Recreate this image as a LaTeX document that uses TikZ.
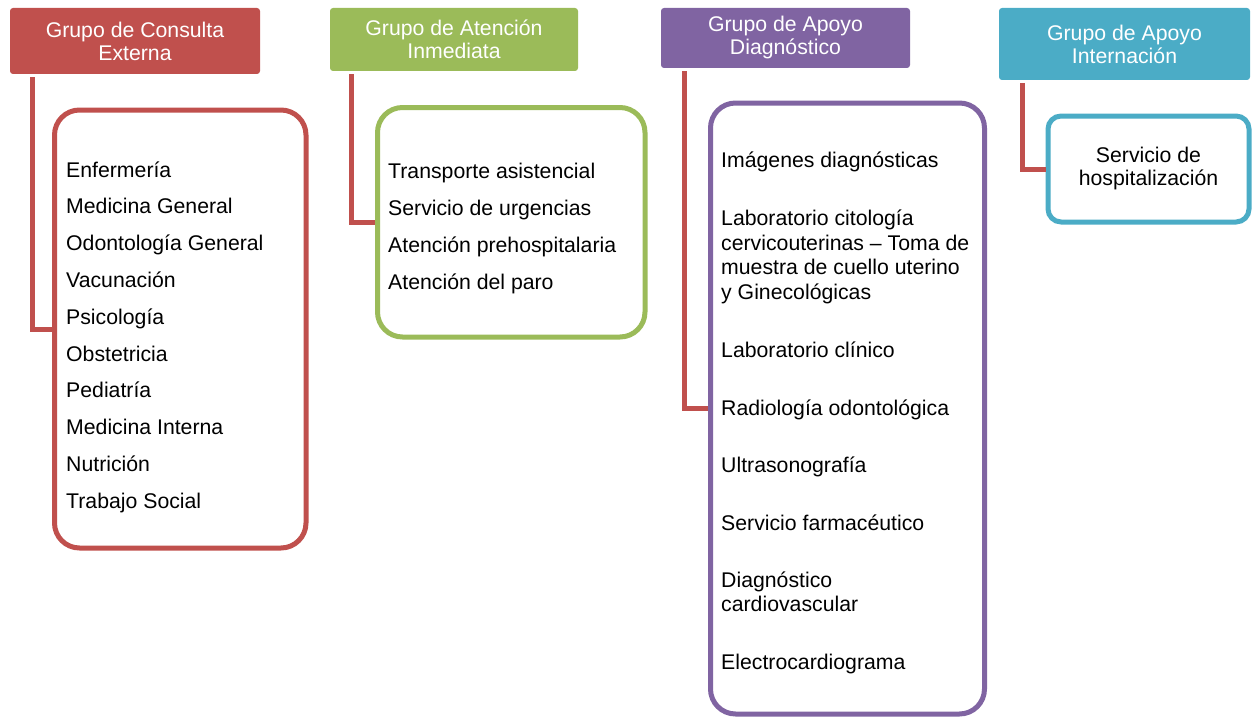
\documentclass[tikz,border=0pt]{standalone}
\usepackage{fontspec}
\setmainfont{Liberation Sans}
\definecolor{cred}{HTML}{C0504D}
\definecolor{cgreen}{HTML}{9BBB59}
\definecolor{cpurple}{HTML}{8064A2}
\definecolor{ccyan}{HTML}{4BACC6}
\begin{document}
\begin{tikzpicture}[x=1pt,y=-1pt,
  hdr/.style={rectangle, rounded corners=3pt, fill=#1, text=white, align=center, inner sep=0pt,
    font=\fontsize{21.25}{23}\selectfont},
  lbox/.style={rectangle, draw=#1, line width=5pt, rounded corners=25pt, fill=white, inner sep=0pt},
  item/.style={anchor=base west, inner sep=0pt, font=\fontsize{21.25}{24.5}\selectfont},
  conn/.style={draw=cred, line width=5pt}]
\useasboundingbox (0,0) rectangle (1253,717);

% headers
\node[hdr=cred, minimum width=250pt, minimum height=66pt] (h1) at (135,41) {Grupo de Consulta\\Externa};
\node[hdr=cgreen, minimum width=248pt, minimum height=63pt] (h2) at (454,39.5) {Grupo de Atención\\Inmediata};
\node[hdr=cpurple, minimum width=249pt, minimum height=60pt] (h3) at (785.5,38) {Grupo de Apoyo\\Diagnóstico};
\node[hdr=ccyan, minimum width=251pt, minimum height=72pt] (h4) at (1124.5,44) {Grupo de Apoyo\\Internación};

% list boxes
\node[lbox=cred, minimum width=251.5pt, minimum height=438pt] (b1) at (180.25,329) {};
\node[lbox=cgreen, minimum width=267.5pt, minimum height=229.5pt] (b2) at (511.25,222.25) {};
\node[lbox=cpurple, minimum width=274pt, minimum height=611pt] (b3) at (847.5,408.5) {};
\node[lbox=ccyan, rounded corners=13pt, minimum width=201pt, minimum height=106pt, align=center,
  font=\fontsize{21.25}{23}\selectfont] (b4) at (1148.5,169) {Servicio de\\hospitalización};

% connectors
\coordinate (c1) at ([xshift=23pt,yshift=-3pt]h1.south west);
\coordinate (c2) at ([xshift=22pt,yshift=-3pt]h2.south west);
\coordinate (c3) at ([xshift=24pt,yshift=-3pt]h3.south west);
\coordinate (c4) at ([xshift=23.5pt,yshift=-3pt]h4.south west);
\draw[conn] (c1) |- (b1.west);
\draw[conn] (c2) |- (b2.west);
\draw[conn] (c3) |- (b3.west);
\draw[conn] (c4) |- (b4.west);

% box 1 items
\node[item] (a1) at (66,177) {Enfermería};
\node[item] (a2) at (66,213.8) {Medicina General};
\node[item] (a3) at (66,250.6) {Odontología General};
\node[item] (a4) at (66,287.4) {Vacunación};
\node[item] (a5) at (66,324.2) {Psicología};
\node[item] (a6) at (66,361) {Obstetricia};
\node[item] (a7) at (66,397.8) {Pediatría};
\node[item] (a8) at (66,434.6) {Medicina Interna};
\node[item] (a9) at (66,471.4) {Nutrición};
\node[item] (a10) at (66,508.2) {Trabajo Social};

% box 2 items
\node[item] (g1) at (388,178) {Transporte asistencial};
\node[item] (g2) at (388,215) {Servicio de urgencias};
\node[item] (g3) at (388,252) {Atención prehospitalaria};
\node[item] (g4) at (388,289) {Atención del paro};

% box 3 items
\node[item] (p1) at (721,167) {Imágenes diagnósticas};
\node[item] (p2a) at (721,225) {Laboratorio citología};
\node[item] (p2b) at (721,250) {cervicouterinas – Toma de};
\node[item] (p2c) at (721,274.5) {muestra de cuello uterino};
\node[item] (p2d) at (721,299) {y Ginecológicas};
\node[item] (p3) at (721,357) {Laboratorio clínico};
\node[item] (p4) at (721,415) {Radiología odontológica};
\node[item] (p5) at (721,472) {Ultrasonografía};
\node[item] (p6) at (721,530) {Servicio farmacéutico};
\node[item] (p7a) at (721,587) {Diagnóstico};
\node[item] (p7b) at (721,611.5) {cardiovascular};
\node[item] (p8) at (721,669) {Electrocardiograma};
\end{tikzpicture}
\end{document}
